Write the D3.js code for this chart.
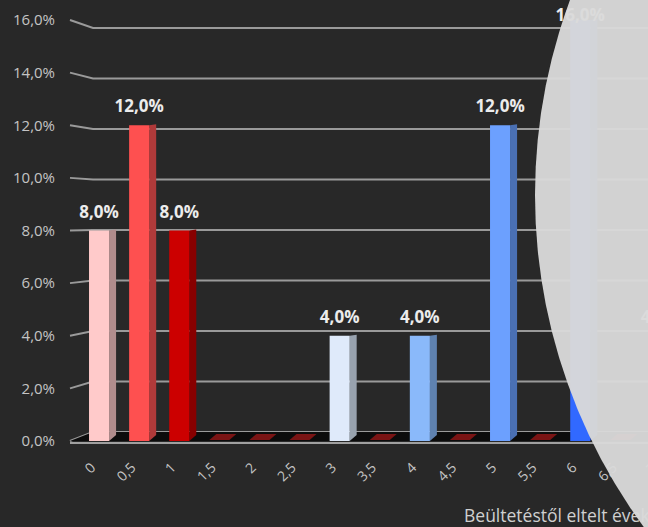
<!DOCTYPE html>
<html>
<head>
<meta charset="utf-8">
<script src="https://cdn.jsdelivr.net/npm/d3@7"></script>
<style>
  html, body { margin: 0; padding: 0; background: #282828; }
  svg { display: block; }
</style>
</head>
<body>
<svg id="chart"></svg>
<script>
// chart size (matches the window)
const width = 648;
const height = 527;

// data
const categories = ["0", "0,5", "1", "1,5", "2", "2,5", "3", "3,5", "4", "4,5", "5", "5,5", "6", "6,5", "7"];
const values     = [8, 12, 8, 0, 0, 0, 4, 0, 4, 0, 12, 0, 16, 0, 4];
const frontColors = ["#ffcaca", "#fe5050", "#cc0000", "#7a1414", "#7a1414", "#7a1414", "#dfeafa", "#7a1414",
                     "#8ab9fa", "#7a1414", "#6ca0fe", "#7a1414", "#3169ff", "#7a1414", "#bcd4f6"];
const sideColors  = ["#b08c8c", "#b03a3a", "#880000", "#4a0c0c", "#4a0c0c", "#4a0c0c", "#98a2ae", "#4a0c0c",
                     "#5f82b0", "#4a0c0c", "#4a70b4", "#4a0c0c", "#2248b4", "#4a0c0c", "#8294ac"];
const yTicks = [0, 2, 4, 6, 8, 10, 12, 14, 16];
const xTitle = "Beültetéstől eltelt évek";

const fmt = v => v.toFixed(1).replace(".", ",") + "%";

const svg = d3.select("#chart")
  .attr("width", width)
  .attr("height", height)
  .style("font-family", "'Open Sans', sans-serif");

svg.append("rect").attr("width", width).attr("height", height).attr("fill", "#282828");

// front plane scale (bars, axis labels) and back wall scale (gridlines)
const yFront = d3.scaleLinear().domain([0, 16]).range([441, 20]);
const yBack = d3.scaleLinear().domain([0, 16]).range([432, 28]);

const step = 40.1;
const x = d3.scaleBand()
  .domain(categories)
  .range([79, 79 + step * categories.length])
  .paddingInner(0.5)
  .paddingOuter(0.25);
const bw = x.bandwidth();
const depth = 7;

// gridlines on the back wall with the little slanted piece at the left
svg.append("g")
  .selectAll("path")
  .data(yTicks)
  .join("path")
  .attr("d", t => `M70,${yFront(t)}L93,${yBack(t)}H${width + 50}`)
  .attr("fill", "none")
  .attr("stroke", "#9a9a9a")
  .attr("stroke-width", 2);

// floor
svg.append("path")
  .attr("d", `M70,${yFront(0)}L93,${yBack(0)}H${width + 50}V${yFront(0)}Z`)
  .attr("fill", "#0c0c0c");
svg.append("line")
  .attr("x1", 70).attr("x2", width + 50)
  .attr("y1", yFront(0) + 2).attr("y2", yFront(0) + 2)
  .attr("stroke", "#a0a0a0")
  .attr("stroke-width", 2);

// y axis labels
svg.append("g")
  .selectAll("text")
  .data(yTicks)
  .join("text")
  .attr("x", 55)
  .attr("y", t => yFront(t))
  .attr("dy", "0.35em")
  .attr("text-anchor", "end")
  .attr("fill", "#c4c4c4")
  .attr("font-size", 15)
  .text(fmt);

// bars
const bars = svg.append("g")
  .selectAll("g")
  .data(categories)
  .join("g");

// zero bars: flat slivers on the floor
bars.filter((d, i) => values[i] === 0)
  .append("path")
  .attr("d", d => {
    const x0 = x(d), y0 = yFront(0) - 1;
    return `M${x0},${y0}L${x0 + bw},${y0}L${x0 + bw + depth},${y0 - 6}L${x0 + depth},${y0 - 6}Z`;
  })
  .attr("fill", d => frontColors[categories.indexOf(d)]);

const nonZero = bars.filter(d => values[categories.indexOf(d)] > 0);

nonZero.append("path")
  .attr("d", d => {
    const v = values[categories.indexOf(d)];
    const x0 = x(d) + bw, top = yFront(v), bottom = yFront(0);
    return `M${x0},${top}L${x0 + depth},${top - 1}L${x0 + depth},${bottom - 6}L${x0},${bottom}Z`;
  })
  .attr("fill", d => sideColors[categories.indexOf(d)]);

nonZero.append("rect")
  .attr("x", d => x(d))
  .attr("y", d => yFront(values[categories.indexOf(d)]))
  .attr("width", bw)
  .attr("height", d => yFront(0) - yFront(values[categories.indexOf(d)]))
  .attr("fill", d => frontColors[categories.indexOf(d)]);

// data labels (the tallest one sits over the top of its bar)
nonZero.append("text")
  .attr("x", d => x(d) + bw / 2)
  .attr("y", d => Math.max(yFront(values[categories.indexOf(d)]) - 13, 21))
  .attr("text-anchor", "middle")
  .attr("fill", "#ececec")
  .attr("font-size", 17)
  .attr("font-weight", "bold")
  .text(d => fmt(values[categories.indexOf(d)]));

// x tick labels, rotated
svg.append("g")
  .selectAll("text")
  .data(categories)
  .join("text")
  .attr("transform", d => `translate(${x(d) + bw / 2 - 6},465) rotate(-45)`)
  .attr("dy", "0.35em")
  .attr("text-anchor", "end")
  .attr("fill", "#c4c4c4")
  .attr("font-size", 14)
  .text(d => d);

// x axis title
svg.append("text")
  .attr("x", 464)
  .attr("y", 522)
  .attr("fill", "#d0d0d0")
  .attr("font-size", 17.5)
  .text(xTitle);

// big light circle over the right side
svg.append("circle")
  .attr("cx", 1096)
  .attr("cy", 195)
  .attr("r", 561)
  .attr("fill", "#dadada")
  .attr("fill-opacity", 0.96);
</script>
</body>
</html>
